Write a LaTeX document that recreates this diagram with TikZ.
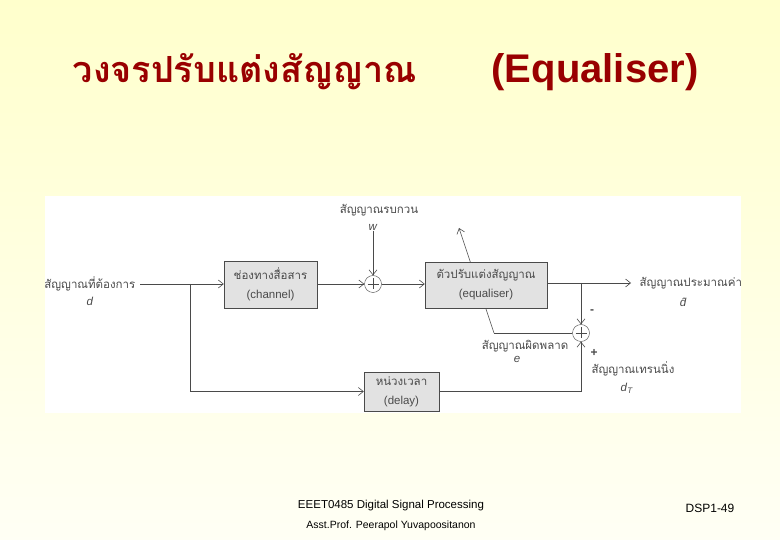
\documentclass[tikz,border=0pt]{standalone}
\usepackage{fontspec}
\setmainfont{Liberation Sans}
\newfontfamily\thaifont[Script=Thai]{Loma}
\usetikzlibrary{positioning, arrows.meta, calc}
\definecolor{titlered}{HTML}{990000}
\definecolor{inkgray}{HTML}{4A4A4A}
\definecolor{boxgray}{HTML}{E2E2E2}

\begin{document}
\begin{tikzpicture}[
  x=1pt, y=-1pt,
  font=\fontsize{11.5}{13}\selectfont,
  block/.style={draw=inkgray, fill=boxgray, inner sep=0pt, align=center, text=inkgray},
  sumop/.style={draw=inkgray, circle, minimum size=17pt, inner sep=0pt, fill=white,
    path picture={\draw[inkgray, line width=0.6pt]
      ($(path picture bounding box.north)+(0,-3pt)$) -- ($(path picture bounding box.south)+(0,3pt)$)
      ($(path picture bounding box.west)+(3pt,0)$) -- ($(path picture bounding box.east)+(-3pt,0)$);}},
  lbl/.style={text=inkgray, inner sep=0.5pt},
  wire/.style={draw=inkgray, line width=0.6pt},
  arr/.style={wire, -{Straight Barb[length=5pt, width=8pt]}},
]
  % background and white panel
  \shade[top color=yellow!20, bottom color=yellow!4] (0,0) rectangle (780,540);
  \useasboundingbox (0,0) rectangle (780,540);
  \fill[white] (45,196) rectangle (741,413);

  % title
  \node[titlered, font=\thaifont\bfseries\fontsize{36}{40}\selectfont] (ttl) at (245,72) {วงจรปรับแต่งสัญญาณ};
  \node[titlered, font=\bfseries\fontsize{40}{44}\selectfont] (ttleng) at (595,72) {(Equaliser)};

  % adaptation path, drawn first so the equaliser box covers it
  \coordinate (errc) at (494,333);
  \coordinate (adtip) at (459,228);
  \draw[arr] (errc) -- (adtip);

  % blocks
  \node[block, minimum width=93pt, minimum height=47pt] (chan) at (270.5,284.5)
    {\thaifont ช่องทางสื่อสาร\\[6pt](channel)};
  \node[sumop] (s1) at (373,284) {};
  \node[block, minimum width=122pt, minimum height=46pt] (eq) at (486,285)
    {\thaifont ตัวปรับแต่งสัญญาณ\\[6pt](equaliser)};
  \node[sumop] (s2) at (581,333) {};
  \node[block, minimum width=75pt, minimum height=39pt] (dly) at (401.5,391.5)
    {\thaifont หน่วงเวลา\\[6pt](delay)};

  % labels
  \node[lbl, anchor=east] (inlbl) at (136,284) {\thaifont สัญญาณที่ต้องการ};
  \node[lbl] (dlbl) at (90,301) {\textit{d}};
  \node[lbl] (noise) at (379,210) {\thaifont สัญญาณรบกวน};
  \node[lbl] (wlbl) at (373,227) {\textit{w}};
  \node[lbl, anchor=west] (outlbl) at (639,283) {\thaifont สัญญาณประมาณค่า};
  \node[lbl] (dhat) at (684,302) {\textit{d̂}};
  \node[lbl] (errlbl) at (525,346) {\thaifont สัญญาณผิดพลาด};
  \node[lbl] (elbl) at (517,359) {\textit{e}};
  \node[lbl] (trlbl) at (633,369) {\thaifont สัญญาณเทรนนิ่ง};
  \node[lbl] (dtlbl) at (627,388) {\textit{d}\textsubscript{\textit{T}}};
  \node[lbl, font=\bfseries\fontsize{12}{13}\selectfont] (minus) at (592,312) {-};
  \node[lbl, font=\bfseries\fontsize{12}{13}\selectfont] (plus) at (594,353) {+};

  % connectors
  \coordinate (br1) at (190,284);
  \coordinate (br2) at (581,283);
  \draw[arr] ([xshift=4pt]inlbl.east) -- (chan.west |- inlbl.east);
  \draw[arr] (br1) |- (dly.west);
  \draw[arr] (chan.east |- s1.west) -- (s1.west);
  \draw[arr] (wlbl.south) -- (s1.north);
  \draw[arr] (s1.east) -- (eq.west |- s1.east);
  \draw[arr] (eq.east |- outlbl.west) -- ([xshift=-8pt]outlbl.west);
  \draw[arr] (br2) -- (s2.north);
  \draw[wire] (s2.west) -- (errc);
  \draw[arr] (dly.east) -| (s2.south);

  % footer
  \node[text=black, font=\fontsize{11.5}{13}\selectfont] (course) at (391,506) {EEET0485 Digital Signal Processing};
  \node[text=black, font=\fontsize{10.5}{12}\selectfont] (lecturer) at (391,526) {Asst.Prof. Peerapol Yuvapoositanon};
  \node[text=black, font=\fontsize{12}{13}\selectfont] (slide) at (710,508) {DSP1-49};
\end{tikzpicture}
\end{document}
